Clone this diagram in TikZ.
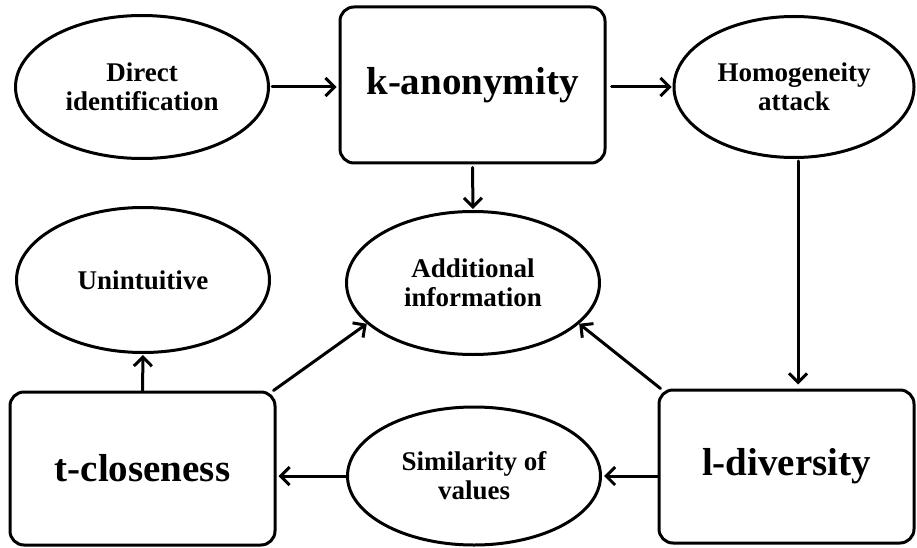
\documentclass[tikz,border=0pt]{standalone}
\usepackage{fontspec}
\setmainfont{Liberation Serif}
\usepackage{tikz}
\usetikzlibrary{shapes.geometric}
\usetikzlibrary{arrows.meta}
\newcommand{\smalltxt}{\bfseries\fontsize{27}{29}\selectfont}
\newcommand{\bigtxt}{\bfseries\fontsize{39}{44}\selectfont}

\begin{document}
\begin{tikzpicture}[line cap=round,line join=round,x=1pt,y=-1pt,
  oval/.style={ellipse,draw,line width=3pt,inner sep=0pt,align=center,font=\smalltxt},
  stage/.style={rectangle,draw,line width=3pt,rounded corners=14pt,inner sep=0pt,font=\bigtxt},
  arr/.style={line width=3pt,-{Straight Barb[length=9pt,width=18pt]}}]
\useasboundingbox (0,0) rectangle (917,548);
%\draw[help lines] (0,0) grid[step=50] (917,548);
\node [oval,minimum width=253,minimum height=143] (direct) at (142,87) {Direct\\identification};
\node [stage,minimum width=265,minimum height=156] (kanon) at (472.5,85) {k-anonymity};
\node [oval,minimum width=240,minimum height=141] (homog) at (794,87) {Homogeneity\\attack};
\node [oval,minimum width=253,minimum height=145] (unint) at (143,280) {Unintuitive};
\node [oval,minimum width=253,minimum height=143] (addinfo) at (473,283) {Additional\\information};
\node [stage,minimum width=265,minimum height=153] (tclose) at (142.5,468.5) {t-closeness};
\node [oval,minimum width=253,minimum height=138] (simil) at (474,476) {Similarity of\\values};
\node [stage,minimum width=255,minimum height=153] (ldiv) at (786.5,466.5) {l-diversity};
\draw [arr] ([xshift=2pt]direct.east) -- ([xshift=-2pt]kanon.west |- direct.east);
\draw [arr] ([xshift=5pt]kanon.east |- homog.west) -- ([xshift=-1pt]homog.west);
\draw [arr] ([yshift=-3pt]kanon.south) -- ([yshift=1pt]addinfo.north);
\draw [arr] ([xshift=4pt,yshift=-2pt]homog.south) -- ([xshift=4pt,yshift=4pt]homog.south |- ldiv.north);
\draw [arr] (ldiv.west |- simil.east) -- ([xshift=2pt]simil.east);
\draw [arr] (simil.west) -- ([xshift=2pt]tclose.east |- simil.west);
\draw [arr] (tclose.north) -- ([yshift=-1pt]unint.south);
\draw [arr] ([xshift=-3pt]tclose.north east) -- (addinfo.201);
\draw [arr] ([xshift=3pt]ldiv.north west) -- (addinfo.339);
\end{tikzpicture}
\end{document}
